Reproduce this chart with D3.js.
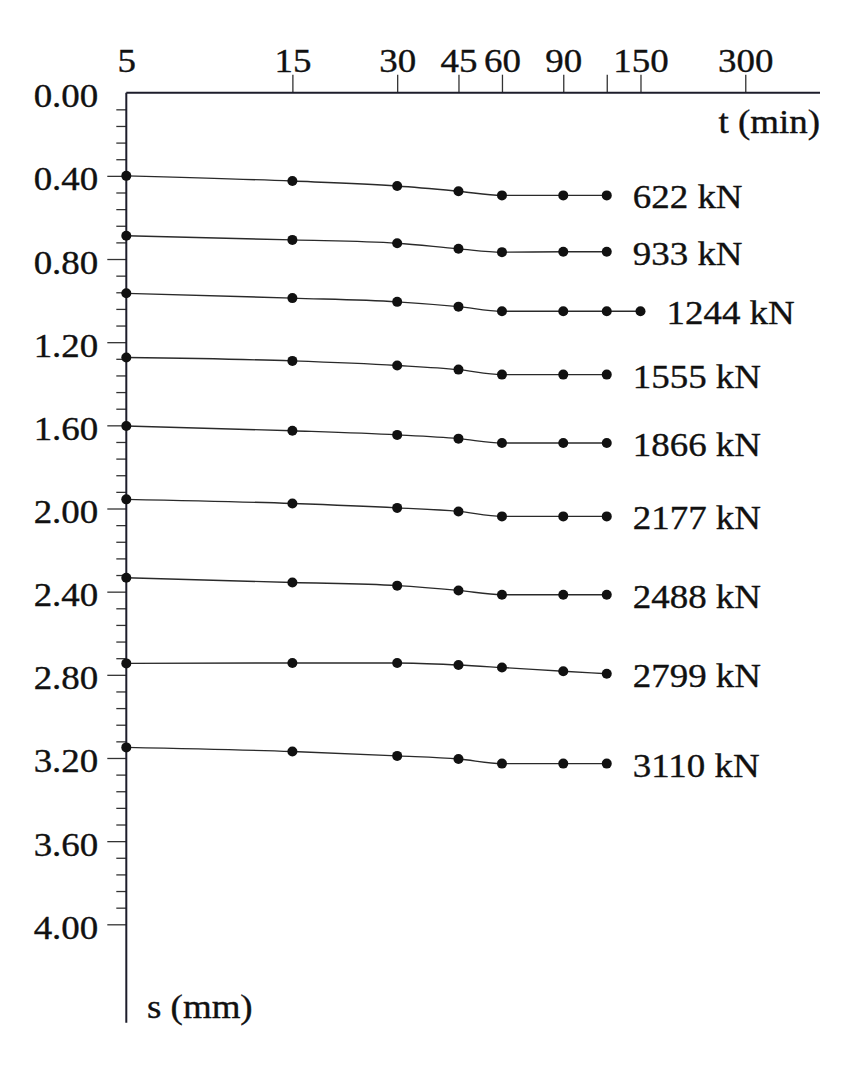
<!DOCTYPE html>
<html>
<head>
<meta charset="utf-8">
<script src="https://cdn.jsdelivr.net/npm/d3@7"></script>
<style>
  html, body { margin: 0; padding: 0; background: #ffffff; }
  svg { display: block; }
  text { font-family: "Liberation Serif", "Times New Roman", serif; fill: #111; stroke: #111; stroke-width: 0.35px; }
</style>
</head>
<body>
<svg id="chart" width="862" height="1078"></svg>
<script>
// ---- data ----
const times = [5, 15, 30, 45, 60, 90, 120];
const times1244 = [5, 15, 30, 45, 60, 90, 120, 150];
const loadLabels = ["622 kN", "933 kN", "1244 kN", "1555 kN", "1866 kN", "2177 kN", "2488 kN", "2799 kN", "3110 kN"];
const s622  = [0.400, 0.425, 0.449, 0.474, 0.494, 0.494, 0.494];
const s933  = [0.688, 0.708, 0.724, 0.751, 0.767, 0.765, 0.765];
const s1244 = [0.965, 0.988, 1.006, 1.029, 1.051, 1.051, 1.051, 1.051];
const s1555 = [1.274, 1.290, 1.312, 1.332, 1.356, 1.356, 1.356];
const s1866 = [1.603, 1.626, 1.646, 1.664, 1.685, 1.685, 1.685];
const s2177 = [1.956, 1.976, 1.997, 2.014, 2.038, 2.038, 2.038];
const s2488 = [2.333, 2.356, 2.371, 2.394, 2.415, 2.415, 2.415];
const s2799 = [2.745, 2.743, 2.743, 2.753, 2.765, 2.783, 2.795];
const s3110 = [3.149, 3.169, 3.190, 3.205, 3.227, 3.227, 3.227];
const xTickValues = [5, 15, 30, 45, 60, 90, 120, 150, 300];
const xTickLabels = ["5", "15", "30", "45", "60", "90", "", "150", "300"];
const yMajorTicks = [0, 0.4, 0.8, 1.2, 1.6, 2.0, 2.4, 2.8, 3.2, 3.6, 4.0];
const yMinorTicks = d3.range(1, 50).filter(i => i % 5 !== 0).map(i => +(i * 0.08).toFixed(2));
const xTitle = "t (min)";
const yTitle = "s (mm)";

const seriesList = [
  { label: loadLabels[0], t: times, s: s622 },
  { label: loadLabels[1], t: times, s: s933 },
  { label: loadLabels[2], t: times1244, s: s1244 },
  { label: loadLabels[3], t: times, s: s1555 },
  { label: loadLabels[4], t: times, s: s1866 },
  { label: loadLabels[5], t: times, s: s2177 },
  { label: loadLabels[6], t: times, s: s2488 },
  { label: loadLabels[7], t: times, s: s2799 },
  { label: loadLabels[8], t: times, s: s3110 }
];

// ---- layout ----
const FS = 33, SX = 1.12;
const x0 = 126.3, xEnd = 820;
const y0 = 92.7, y4 = 924.3, yAxisEnd = 1022.7;
const pxPerDecade = 348.1;
const tMax = 5 * Math.pow(10, (xEnd - x0) / pxPerDecade);

const x = d3.scaleLog().domain([5, tMax]).range([x0, xEnd]);
const y = d3.scaleLinear().domain([0, 4]).range([y0, y4]);

const svg = d3.select("#chart");
const axisColor = "#1d1d2b";

// ---- x axis (top) ----
const gx = svg.append("g").attr("transform", `translate(0,${y0})`)
  .call(d3.axisTop(x).tickValues(xTickValues).tickSize(18).tickPadding(3).tickSizeOuter(0)
    .tickFormat((d, i) => xTickLabels[i]));
gx.select(".domain").remove();
gx.selectAll(".tick line").attr("stroke", "#333").attr("stroke-width", 1.3)
  .filter(d => d === 5).remove();
gx.selectAll(".tick text")
  .attr("font-size", FS).attr("fill", "#111")
  .attr("font-family", "Liberation Serif, serif")
  .attr("transform", `scale(${SX},1)`);

// ---- y axis minor ticks ----
const gym = svg.append("g").attr("transform", `translate(${x0},0)`)
  .call(d3.axisLeft(y).tickValues(yMinorTicks).tickSize(10).tickSizeOuter(0).tickFormat(""));
gym.select(".domain").remove();
gym.selectAll(".tick line").attr("stroke", "#333").attr("stroke-width", 1.3);

// ---- y axis major ticks ----
const gy = svg.append("g").attr("transform", `translate(${x0},0)`)
  .call(d3.axisLeft(y).tickValues(yMajorTicks).tickSize(19).tickPadding(9).tickSizeOuter(0)
    .tickFormat(d3.format(".2f")));
gy.select(".domain").remove();
gy.selectAll(".tick line").attr("stroke", "#333").attr("stroke-width", 1.3)
  .filter(d => d === 0).remove();
gy.selectAll(".tick text")
  .attr("font-size", FS).attr("fill", "#111")
  .attr("font-family", "Liberation Serif, serif")
  .attr("x", 0).attr("dy", 14)
  .attr("transform", `translate(-28,0) scale(${SX},1)`);

// ---- axis lines ----
svg.append("line").attr("x1", x0).attr("x2", xEnd).attr("y1", y0).attr("y2", y0)
  .attr("stroke", axisColor).attr("stroke-width", 2);
svg.append("line").attr("x1", x0).attr("x2", x0).attr("y1", y0).attr("y2", yAxisEnd)
  .attr("stroke", axisColor).attr("stroke-width", 2);

// ---- axis titles ----
svg.append("text").attr("transform", `translate(${xEnd},133) scale(${SX},1)`)
  .attr("text-anchor", "end").attr("font-size", FS).text(xTitle);
svg.append("text").attr("transform", `translate(147,1018) scale(${SX},1)`)
  .attr("text-anchor", "start").attr("font-size", FS).text(yTitle);

// ---- series ----
const line = d3.line().x(d => x(d[0])).y(d => y(d[1])).curve(d3.curveMonotoneX);
seriesList.forEach(ser => {
  const pts = ser.t.map((t, i) => [t, ser.s[i]]);
  svg.append("path").datum(pts).attr("d", line)
    .attr("fill", "none").attr("stroke", "#2a2a2a").attr("stroke-width", 1.4);
  svg.append("g").selectAll("circle").data(pts).join("circle")
    .attr("cx", d => x(d[0])).attr("cy", d => y(d[1])).attr("r", 5).attr("fill", "#111");
  const last = pts[pts.length - 1];
  svg.append("text")
    .attr("transform", `translate(${x(last[0]) + 26},${y(last[1]) + 13}) scale(${SX},1)`)
    .attr("font-size", FS).text(ser.label);
});
</script>
</body>
</html>
